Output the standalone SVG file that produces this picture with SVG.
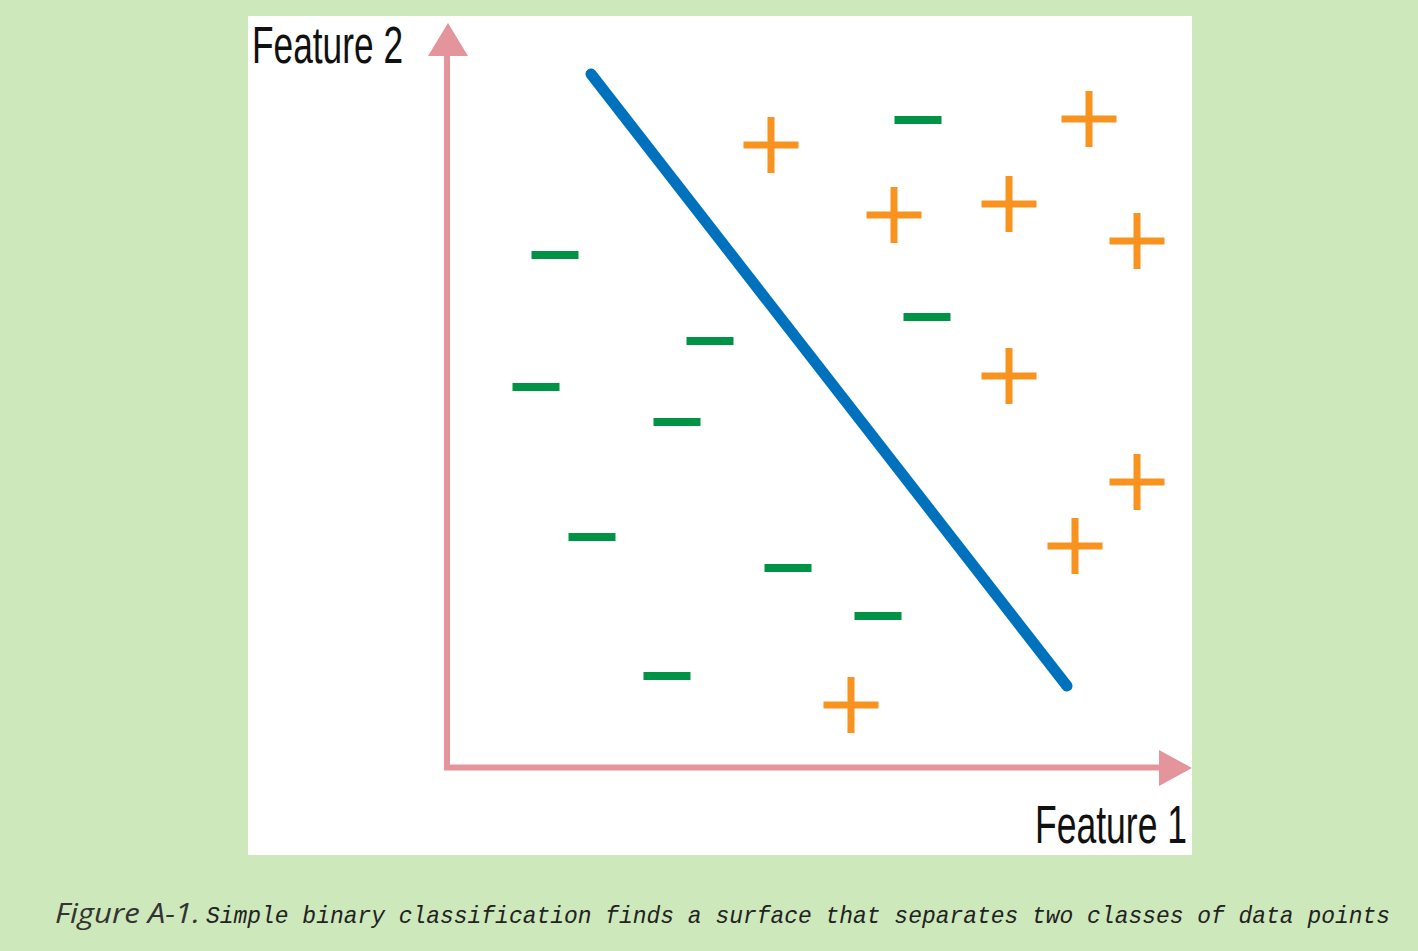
<svg xmlns="http://www.w3.org/2000/svg" width="1418" height="951" viewBox="0 0 1418 951">
<style>
.axis{stroke:#E3959B;stroke-width:6;fill:none}
.head{fill:#E3959B}
.minus{fill:#009245}
.plus{stroke:#F7931E;stroke-width:7;fill:none}
.lbl{font-family:"Liberation Sans",Arial,sans-serif;fill:#111}
</style>
<defs>
<rect id="m" x="-23.5" y="-4" width="47" height="8"/>
<path id="p" d="M-27.5 0H27.5M0 -28V28"/>
</defs>
<rect x="0" y="0" width="1418" height="951" fill="#CDE8BA"/>
<rect x="248" y="16" width="944" height="839" fill="#FFFFFF"/>
<g id="axes">
<path class="axis" d="M447 55V767.5H1162"/>
<polygon class="head" points="448,23 428,56 468,56"/>
<polygon class="head" points="1192,768 1159,750 1159,786"/>
</g>
<g id="labels">
<text class="lbl" x="252" y="63" font-size="51" textLength="151" lengthAdjust="spacingAndGlyphs">Feature 2</text>
<text class="lbl" x="1035" y="843" font-size="53" textLength="152" lengthAdjust="spacingAndGlyphs">Feature 1</text>
</g>
<g id="boundary">
<line x1="591" y1="74" x2="1067" y2="686" stroke="#0071BC" stroke-width="11" stroke-linecap="round"/>
</g>
<g id="negatives" class="minus">
<use href="#m" x="918" y="120"/>
<use href="#m" x="555" y="255"/>
<use href="#m" x="927" y="317"/>
<use href="#m" x="710" y="341"/>
<use href="#m" x="536" y="387"/>
<use href="#m" x="677" y="422"/>
<use href="#m" x="592" y="537"/>
<use href="#m" x="788" y="568"/>
<use href="#m" x="878" y="616"/>
<use href="#m" x="667" y="676"/>
</g>
<g id="positives" class="plus">
<use href="#p" x="771" y="145"/>
<use href="#p" x="1089" y="119"/>
<use href="#p" x="894" y="215"/>
<use href="#p" x="1009" y="204"/>
<use href="#p" x="1137" y="241"/>
<use href="#p" x="1009" y="376"/>
<use href="#p" x="1137" y="482"/>
<use href="#p" x="1075" y="546"/>
<use href="#p" x="851" y="705"/>
</g>
<g id="caption">
<text x="55" y="923" font-family="'Open Sans','Liberation Sans',sans-serif" font-style="italic" font-size="28" fill="#333" textLength="145" lengthAdjust="spacingAndGlyphs">Figure A-1.</text>
<text x="206" y="923" font-family="'Liberation Mono',monospace" font-style="italic" font-size="23" fill="#222" textLength="1184" lengthAdjust="spacingAndGlyphs">Simple binary classification finds a surface that separates two classes of data points</text>
</g>
</svg>
